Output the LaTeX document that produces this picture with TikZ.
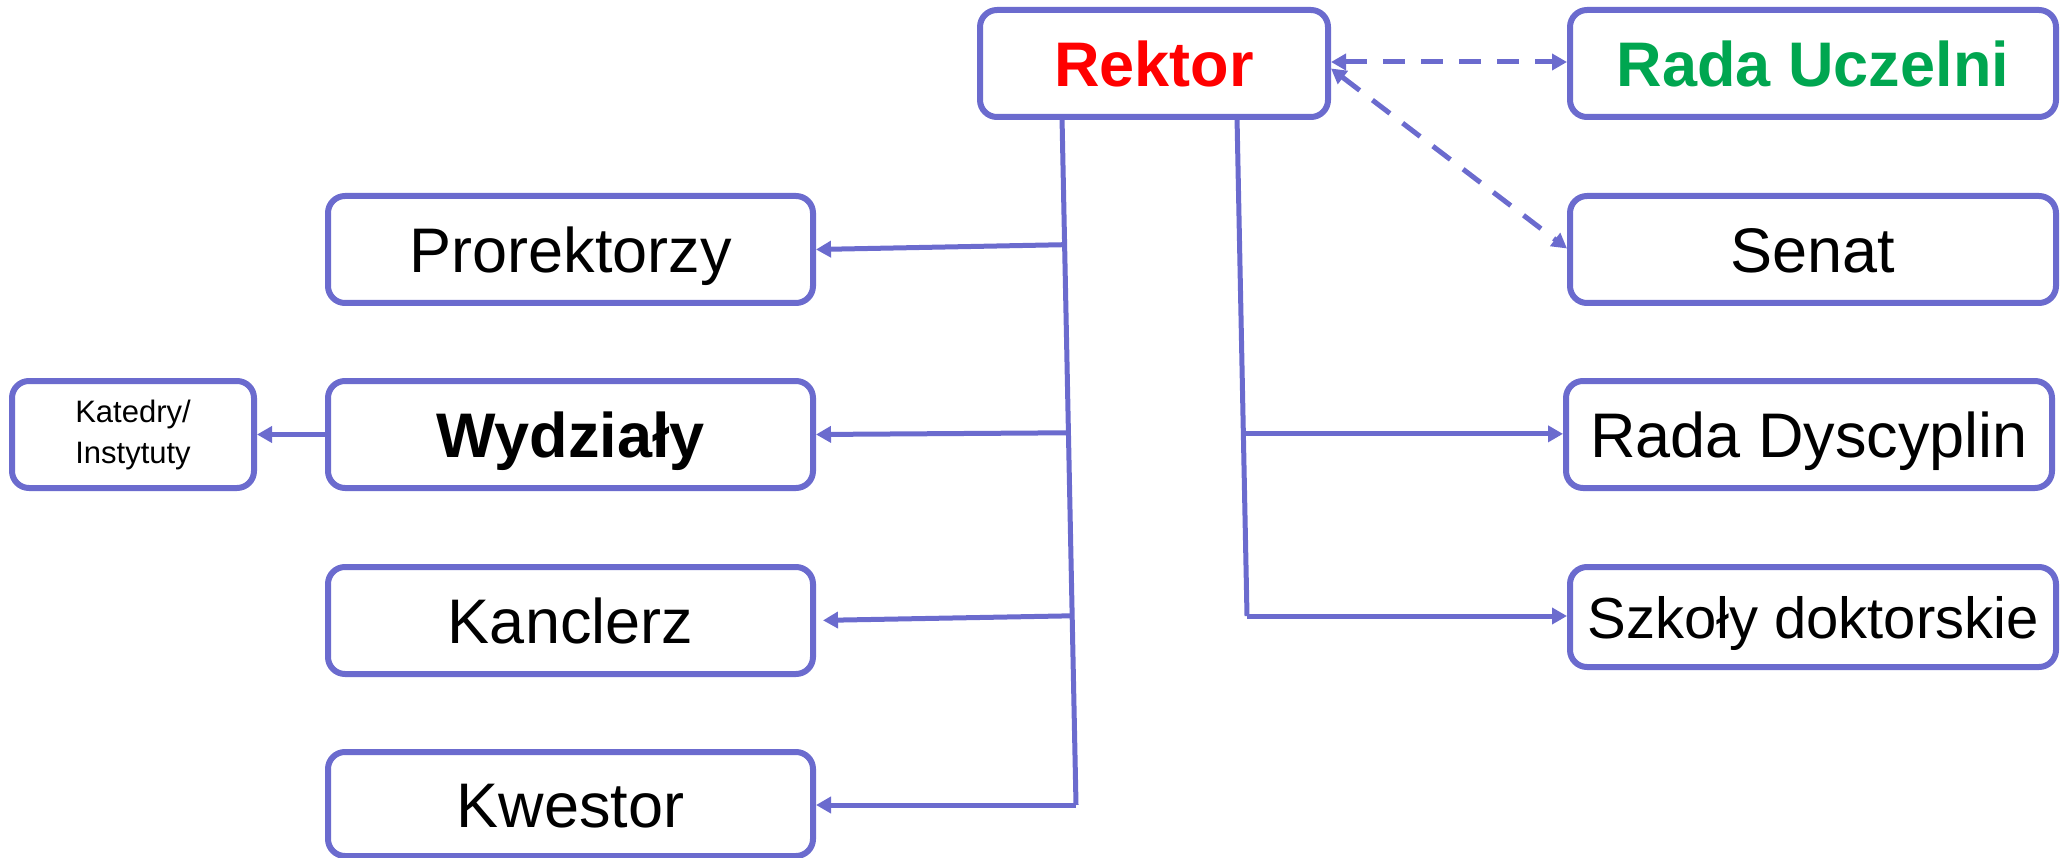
\documentclass[tikz,border=0pt]{standalone}
\usepackage{fontspec}
\setmainfont{Liberation Sans}
\usetikzlibrary{arrows.meta,calc}
\definecolor{lineblue}{RGB}{107,107,206}
\definecolor{rektred}{RGB}{255,0,0}
\definecolor{radagreen}{RGB}{0,166,80}
\begin{document}
\begin{tikzpicture}[x=1pt,y=-1pt,
 box/.style={draw=lineblue,line width=6pt,rounded corners=17pt,fill=white,inner sep=0pt,
   minimum height=107pt,minimum width=485pt,font=\fontsize{63}{75}\selectfont},
 tb/.style={text height=46pt,text depth=0pt},
 conn/.style={draw=lineblue,line width=5pt},
 arr/.style={conn,-{Triangle[length=15pt,width=16pt]}},
 darr/.style={conn,dash pattern=on 22pt off 16pt,{Triangle[length=15pt,width=16pt]}-{Triangle[length=15pt,width=16pt]}}]
\useasboundingbox (0,0) rectangle (2063,858);
% nodes
\node[box,tb,minimum width=348pt,text=rektred,font=\fontsize{63}{75}\selectfont\bfseries] (rek) at (1154,63.5) {Rektor};
\node[box,tb,minimum width=486pt,text=radagreen,font=\fontsize{63}{75}\selectfont\bfseries] (ru) at (1813,63.5) {Rada Uczelni};
\node[box,tb,minimum width=486pt] (sen) at (1813,249.5) {Senat};
\node[box,tb] (pro) at (570.5,249.5) {Prorektorzy};
\node[box,tb,font=\fontsize{63}{75}\selectfont\bfseries] (wyd) at (570.5,434.5) {Wydziały};
\node[box,minimum width=242pt,align=center,font=\fontsize{31}{41}\selectfont] (kat) at (133,434.5) {Katedry/\\Instytuty};
\node[box,tb] (kan) at (570.5,620.5) {Kanclerz};
\node[box,tb,minimum height=104pt] (kw) at (570.5,804) {Kwestor};
\node[box,tb,minimum width=486pt] (rd) at (1809,434.5) {Rada Dyscyplin};
\node[box,minimum width=486pt,minimum height=100pt,text height=42pt,text depth=0pt,font=\fontsize{58}{70}\selectfont] (sz) at (1813,617) {Szkoły doktorskie};
% left trunk
\coordinate (lt0) at (1062,117);
\coordinate (lt4) at (1076,805);
\coordinate (lt1) at ($(lt0)!0.1856!(lt4)$);
\coordinate (lt2) at ($(lt0)!0.459!(lt4)$);
\coordinate (lt3) at ($(lt0)!0.725!(lt4)$);
\draw[conn] (lt0) -- (lt4);
\draw[arr] (lt1) -- (pro.east);
\draw[arr] (lt2) -- (wyd.east);
\draw[arr,shorten >=7pt] (lt3) -- (kan.east);
\draw[arr] (lt4) -- (lt4 -| kw.east);
\draw[arr] (wyd.west) -- (kat.east);
% right trunk
\coordinate (rt0) at (1237,117);
\coordinate (rt2) at (1247,616);
\coordinate (rt1) at ($(rt0)!0.635!(rt2)$);
\draw[conn] (rt0) -- (rt2);
\draw[arr] (rt1) -- (rt1 -| rd.west);
\draw[arr] (rt2) -- (rt2 -| sz.west);
% dashed
\draw[darr] ([yshift=1.5pt]rek.east) -- ([yshift=1.5pt]ru.west);
\draw[darr] ([yshift=-5pt]rek.east) -- ([yshift=1pt]sen.west);
\end{tikzpicture}
\end{document}
